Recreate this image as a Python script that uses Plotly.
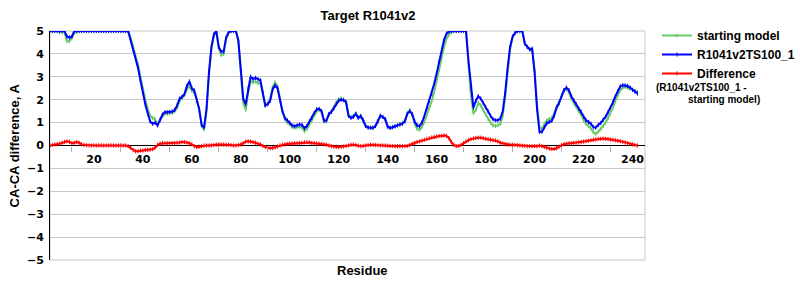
import plotly.graph_objects as go

# ---- data ----
residues = list(range(2, 243))

starting_model = [
    5.0, 5.0, 5.0, 5.0, 4.95, 4.95, 4.95, 4.55, 4.55, 4.7,
    4.92, 4.95, 5.0, 5.0, 5.0, 5.0, 5.0, 5.0, 5.0, 5.0,
    5.0, 5.0, 5.0, 5.0, 5.0, 5.0, 5.0, 5.0, 5.0, 5.0,
    5.0, 5.0, 5.0, 4.7, 4.35, 4.0, 3.55, 3.0, 2.45, 2.0,
    1.6, 1.3, 1.2, 1.15, 0.95, 1.1, 1.3, 1.4, 1.4, 1.42,
    1.44, 1.5, 1.65, 1.95, 2.08, 2.2, 2.45, 2.6, 2.4, 2.3,
    2.0, 1.6, 0.85, 0.7, 1.5, 3.1, 4.2, 4.8, 5.0, 4.25,
    3.95, 4.0, 4.65, 4.9, 5.0, 5.0, 5.0, 4.55, 3.2, 1.85,
    1.55, 2.3, 2.8, 2.75, 2.8, 2.72, 2.72, 2.3, 1.75, 1.85,
    2.05, 2.55, 2.75, 2.6, 2.05, 1.5, 1.15, 1.0, 0.92, 0.8,
    0.78, 0.8, 0.82, 0.78, 0.62, 0.72, 0.92, 1.1, 1.35, 1.5,
    1.55, 1.45, 1.05, 1.05, 1.35, 1.5, 1.68, 1.88, 2.02, 2.05,
    2.0, 1.9, 1.3, 1.25, 1.3, 1.4, 1.25, 1.3, 1.1, 0.85,
    0.8, 0.77, 0.77, 0.85, 1.05, 1.28, 1.25, 1.15, 0.82, 0.77,
    0.8, 0.84, 0.88, 0.92, 0.98, 1.1, 1.42, 1.55, 1.35, 0.95,
    0.72, 0.68, 0.8, 1.05, 1.35, 1.65, 1.95, 2.35, 2.8, 3.3,
    3.8, 4.3, 4.65, 4.85, 4.95, 5.0, 5.0, 5.0, 5.0, 5.0,
    5.0, 3.5, 2.2, 1.4, 1.55, 1.85, 1.75, 1.55, 1.35, 1.15,
    1.0, 0.88, 0.85, 0.88, 0.95, 1.3, 2.1, 3.2, 4.2, 4.7,
    4.9, 5.0, 5.0, 5.0, 4.45, 4.3, 4.2, 4.22, 3.3, 1.8,
    0.75, 0.75, 0.95, 1.1, 1.15, 1.2, 1.4, 1.7, 1.9, 2.15,
    2.4, 2.45, 2.35, 2.05, 1.85, 1.7, 1.5, 1.35, 1.1, 0.95,
    0.85, 0.75, 0.58, 0.5, 0.6, 0.72, 0.85, 1.0, 1.2, 1.4,
    1.65, 1.95, 2.2, 2.42, 2.52, 2.55, 2.52, 2.48, 2.42, 2.38,
    2.35,
]

model_ts100_1 = [
    5.0, 5.0, 5.0, 5.0, 5.0, 5.0, 5.0, 4.75, 4.72, 4.75,
    5.0, 5.0, 5.0, 5.0, 5.0, 5.0, 5.0, 5.0, 5.0, 5.0,
    5.0, 5.0, 5.0, 5.0, 5.0, 5.0, 5.0, 5.0, 5.0, 5.0,
    5.0, 5.0, 5.0, 4.6, 4.2, 3.85, 3.4, 2.85, 2.3, 1.8,
    1.4, 1.05, 0.95, 1.0, 0.88, 1.1, 1.35, 1.45, 1.45, 1.46,
    1.48, 1.55, 1.75, 2.05, 2.12, 2.25, 2.6, 2.8, 2.5, 2.4,
    1.95, 1.6, 0.9, 0.78, 1.6, 3.2, 4.3, 4.85, 5.0, 4.3,
    4.1, 4.1, 4.7, 4.95, 5.0, 5.0, 5.0, 4.6, 3.3, 2.05,
    1.8, 2.5, 3.0, 2.9, 2.95, 2.9, 2.85, 2.3, 1.75, 1.8,
    1.95, 2.45, 2.62, 2.5, 2.0, 1.5, 1.2, 1.1, 1.0, 0.88,
    0.84, 0.88, 0.92, 0.9, 0.75, 0.85, 1.05, 1.2, 1.42, 1.58,
    1.6, 1.5, 1.08, 1.1, 1.38, 1.46, 1.62, 1.82, 1.96, 2.0,
    1.98, 1.9, 1.3, 1.2, 1.25, 1.38, 1.2, 1.28, 1.1, 0.85,
    0.78, 0.77, 0.77, 0.85, 1.05, 1.3, 1.25, 1.15, 0.82, 0.77,
    0.8, 0.84, 0.88, 0.92, 0.95, 1.05, 1.38, 1.5, 1.38, 1.05,
    0.88, 0.84, 1.0, 1.3, 1.65, 1.95, 2.25, 2.7, 3.15, 3.65,
    4.15, 4.6, 4.88, 4.98, 5.0, 5.0, 5.0, 5.0, 5.0, 5.0,
    5.0, 3.7, 2.5, 1.65, 1.95, 2.15, 2.05, 1.85, 1.68, 1.5,
    1.3, 1.15, 1.1, 1.1, 1.17, 1.5, 2.3, 3.4, 4.3, 4.75,
    4.92, 5.0, 5.0, 5.0, 4.45, 4.3, 4.2, 4.22, 3.2, 1.6,
    0.6, 0.6, 0.8, 0.97, 1.03, 1.07, 1.3, 1.65, 1.85, 2.15,
    2.42, 2.53, 2.42, 2.15, 1.97, 1.8, 1.62, 1.48, 1.25, 1.1,
    1.03, 0.95, 0.8, 0.78, 0.9, 0.98, 1.12, 1.25, 1.45, 1.65,
    1.88, 2.15, 2.38, 2.58, 2.63, 2.63, 2.6, 2.53, 2.43, 2.35,
    2.27,
]

difference = [
    0.0, 0.03, 0.05, 0.06, 0.08, 0.12, 0.16, 0.18, 0.16, 0.1,
    0.12, 0.15, 0.12, 0.05, 0.02, 0.01, 0.0, 0.0, 0.01, 0.0,
    0.0, 0.01, 0.0, 0.0, 0.0, 0.01, 0.0, 0.0, 0.0, 0.01,
    0.0, 0.0, -0.03, -0.1, -0.2, -0.25, -0.25, -0.22, -0.22, -0.2,
    -0.19, -0.18, -0.16, -0.1, 0.02, 0.08, 0.1, 0.1, 0.1, 0.1,
    0.1, 0.1, 0.12, 0.13, 0.15, 0.15, 0.13, 0.1, 0.05, -0.03,
    -0.07, -0.05, -0.03, 0.0, 0.0, 0.0, 0.0, 0.02, 0.03, 0.04,
    0.04, 0.04, 0.03, 0.03, 0.02, 0.0, 0.0, 0.02, 0.04, 0.1,
    0.17, 0.18, 0.17, 0.15, 0.12, 0.08, 0.05, -0.02, -0.07, -0.1,
    -0.12, -0.11, -0.08, -0.04, 0.0, 0.03, 0.05, 0.07, 0.08, 0.09,
    0.1, 0.1, 0.11, 0.12, 0.14, 0.15, 0.13, 0.11, 0.1, 0.09,
    0.08, 0.07, 0.05, 0.03, 0.0, -0.03, -0.05, -0.06, -0.07, -0.06,
    -0.04, -0.03, 0.0, 0.03, 0.04, 0.02, -0.01, -0.03, -0.02, 0.0,
    0.02, 0.03, 0.03, 0.02, 0.01, 0.0, 0.0, 0.0, -0.01, -0.02,
    -0.02, -0.03, -0.03, -0.03, -0.03, -0.03, -0.02, 0.02, 0.07, 0.11,
    0.15, 0.18, 0.21, 0.25, 0.29, 0.32, 0.35, 0.37, 0.39, 0.41,
    0.42, 0.44, 0.42, 0.33, 0.15, 0.03, -0.03, -0.02, 0.03, 0.1,
    0.18, 0.23, 0.28, 0.31, 0.33, 0.34, 0.34, 0.32, 0.29, 0.27,
    0.26, 0.24, 0.22, 0.18, 0.12, 0.09, 0.06, 0.04, 0.03, 0.03,
    0.02, 0.01, 0.0, -0.01, -0.02, -0.03, -0.03, -0.03, -0.02, -0.03,
    0.0, -0.03, -0.06, -0.1, -0.14, -0.15, -0.15, -0.12, -0.05, 0.02,
    0.06, 0.08, 0.09, 0.1, 0.11, 0.12, 0.13, 0.15, 0.17, 0.19,
    0.21, 0.23, 0.25, 0.27, 0.29, 0.29, 0.3, 0.29, 0.28, 0.26,
    0.25, 0.23, 0.21, 0.19, 0.16, 0.13, 0.1, 0.08, 0.05, 0.02,
    0.0,
]

x_tick_values = [20, 40, 60, 80, 100, 120, 140, 160, 180, 200, 220, 240]
x_tick_labels = ["20", "40", "60", "80", "100", "120", "140", "160", "180", "200", "220", "240"]
y_tick_values = [-5, -4, -3, -2, -1, 0, 1, 2, 3, 4, 5]

series_names = ["starting model", "R1041v2TS100_1", "Difference"]
series_colors = ["#66cc66", "#0000ff", "#ff0000"]

title_text = "Target R1041v2"
y_title = "CA-CA difference, A"
x_title = "Residue"
diff_note_1 = "(R1041v2TS100_1 -"
diff_note_2 = "starting model)"

# ---- figure ----
W, H = 800, 300
L, R, T, B = 50, 140, 31, 40
pw, ph = W - L - R, H - T - B

n = min(len(residues), len(starting_model), len(model_ts100_1), len(difference))
xs = residues[:n]

fig = go.Figure()
for name, ys, col in zip(series_names, [starting_model, model_ts100_1, difference], series_colors):
    fig.add_trace(go.Scatter(
        x=xs, y=ys[:n], name=name, mode="lines+markers",
        line=dict(color=col, width=2),
        marker=dict(symbol="line-ns", size=3, line=dict(color=col, width=1), color=col),
    ))

bold_arial = dict(family="Liberation Sans, Arial, sans-serif", size=13, color="black", weight="bold")
note_font = dict(family="Liberation Sans, Arial, sans-serif", size=10, color="black", weight="bold")

fig.update_layout(
    width=W, height=H,
    margin=dict(l=L, r=R, t=T, b=B),
    paper_bgcolor="white", plot_bgcolor="white",
    showlegend=True,
    title=dict(text=title_text, font=bold_arial, x=368 / W, xref="container",
               xanchor="center", y=1 - 15 / H, yref="container", yanchor="middle"),
    legend=dict(
        x=657 / W, xref="container", xanchor="left",
        y=1 - 21 / H, yref="container", yanchor="top",
        font=dict(family="Liberation Sans, Arial, sans-serif", size=12, color="black", weight="bold"),
        bgcolor="rgba(0,0,0,0)", borderwidth=0, tracegroupgap=0,
    ),
    xaxis=dict(
        range=[2.07, 245.1], anchor="free", position=0.5,
        showgrid=False, zeroline=False, showline=False,
        tickmode="array", tickvals=x_tick_values, ticktext=x_tick_labels,
        ticks="", ticklen=0, ticklabelstandoff=5,
        minor=dict(ticks="outside", ticklen=5, tickcolor="#b0b0b0", tick0=10.85, dtick=20, showgrid=False),
        tickfont=dict(family="DejaVu Sans, Verdana, sans-serif", size=11, color="black", weight="bold"),
    ),
    yaxis=dict(
        range=[-5, 5], tickmode="array", tickvals=y_tick_values,
        showgrid=True, gridcolor="#c8c8c8", gridwidth=1,
        zeroline=True, zerolinecolor="black", zerolinewidth=1,
        showline=True, linecolor="black", linewidth=1,
        ticks="", ticklabelstandoff=3,
        tickfont=dict(family="DejaVu Sans, Verdana, sans-serif", size=11, color="black", weight="bold"),
    ),
    shapes=[dict(type="rect", xref="paper", yref="paper", x0=0, x1=1, y0=0, y1=1,
                 line=dict(color="#c8c8c8", width=1), layer="below")],
    annotations=[
        dict(text=y_title, xref="paper", yref="paper", x=(14 - L) / pw, y=0.5,
             xanchor="center", yanchor="middle", textangle=-90, showarrow=False, font=bold_arial),
        dict(text=x_title, xref="paper", yref="paper", x=(370 - L) / pw, y=(T + ph - 270) / ph,
             xanchor="center", yanchor="middle", showarrow=False, font=bold_arial),
        dict(text=diff_note_1, xref="paper", yref="paper", x=(669 - L) / pw, y=(T + ph - 87) / ph,
             xanchor="left", yanchor="middle", showarrow=False, font=note_font),
        dict(text=diff_note_2, xref="paper", yref="paper", x=(702 - L) / pw, y=(T + ph - 99) / ph,
             xanchor="left", yanchor="middle", showarrow=False, font=note_font),
    ],
)

fig.write_html("out.html")
